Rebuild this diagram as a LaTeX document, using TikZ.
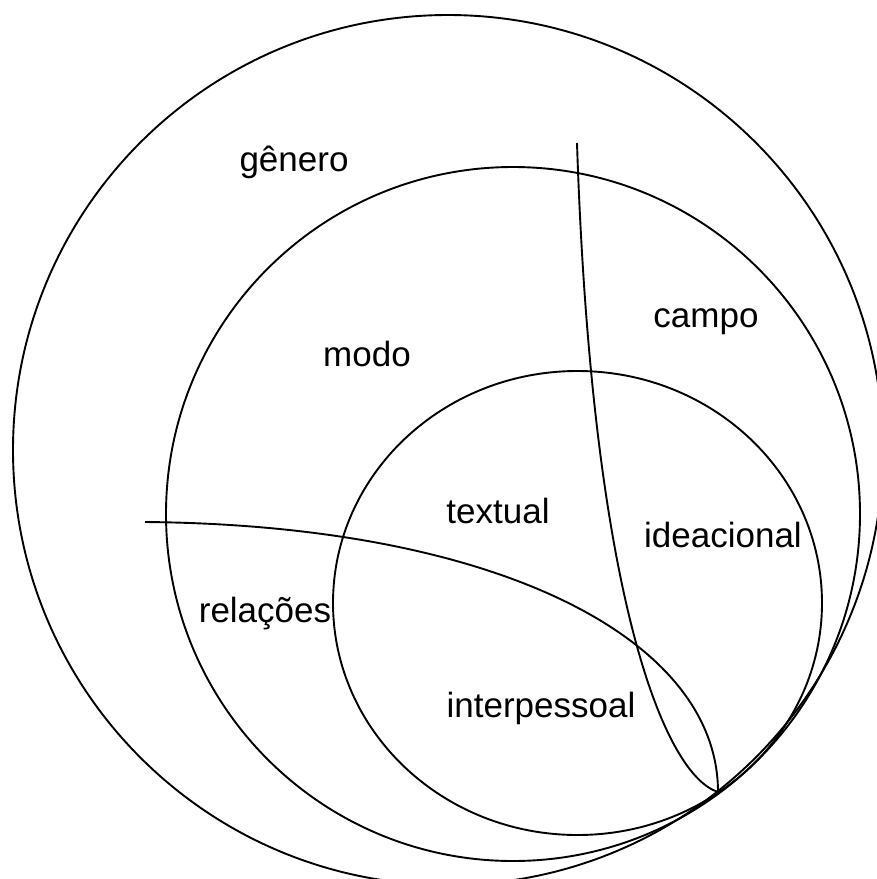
\documentclass[tikz,border=0pt]{standalone}
\usepackage{fontspec}
\setmainfont{Liberation Sans}
\begin{document}
\begin{tikzpicture}[
    x=1pt, y=-1pt,
    ring/.style={draw, line width=1.9pt},
    cut/.style={draw, line width=1.9pt},
    lbl/.style={font=\fontsize{35}{42}\selectfont, anchor=base, inner sep=0pt}
]
    \useasboundingbox (0,0) rectangle (877,879);

    % círculos tangentes
    \draw[ring] (448,450) circle[radius=435];
    \draw[ring] (513,514) circle[radius=347];
    \draw[ring] (577.5,603) ellipse[x radius=244.5, y radius=232];

    % pontos das curvas
    \coordinate (topo) at (577,143);
    \coordinate (esq) at (145,522);
    \coordinate (tang) at (718,792);

    % curvas de divisão
    \draw[cut] (topo) .. controls (592,600) and (665,775) .. (tang);
    \draw[cut] (esq) .. controls (500,525) and (718,640) .. (tang);

    % rótulos
    \node[lbl] (genero) at (294,171) {gênero};
    \node[lbl] (campo) at (706,327) {campo};
    \node[lbl] (modo) at (367,366) {modo};
    \node[lbl] (textual) at (498,523) {textual};
    \node[lbl] (ideacional) at (723,547) {ideacional};
    \node[lbl] (relacoes) at (265,622) {relações};
    \node[lbl] (interp) at (541,717) {interpessoal};
\end{tikzpicture}
\end{document}
